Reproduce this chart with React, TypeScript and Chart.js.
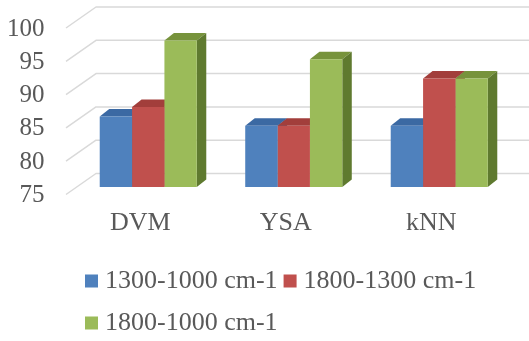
import React, { useEffect, useRef } from "react";
import { Chart, registerables } from "chart.js";

Chart.register(...registerables);

// Categories, series and axis ticks
const categories = ["DVM", "YSA", "kNN"];
const seriesNames = ["1300-1000 cm-1", "1800-1300 cm-1", "1800-1000 cm-1"];
const series1300to1000 = [85.6, 84.2, 84.2];
const series1800to1300 = [87.0, 84.2, 91.3];
const series1800to1000 = [97.0, 94.2, 91.3];
const yTicks = [75, 80, 85, 90, 95, 100];

// Face colours: front, top, side
const frontColors = ["#4f81bd", "#c0504d", "#9bbb59"];
const topColors = ["#3b69a3", "#a23e3b", "#77933c"];
const sideColors = ["#2f5585", "#8a3331", "#5f7a2f"];

// Oblique projection used for the pseudo-3D look
const WALL_DX = 30; // side wall depth (x)
const WALL_DY = 21; // side wall depth (y)
const FRONT_DX = -9.5; // bar plane -> front plane
const FRONT_DY = 7.5;
const BAR_DX = 9.5; // bar depth
const BAR_DY = 7.5;

const TEXT = "#595959";
const SERIF = "'Liberation Serif', 'Times New Roman', serif";

const depthPlugin = {
  id: "depth3d",
  beforeDatasetsDraw(chart: any) {
    const { ctx, chartArea } = chart;
    const y = chart.scales.y;
    ctx.save();
    // side wall diagonals and back wall gridlines
    ctx.strokeStyle = "#d9d9d9";
    ctx.lineWidth = 1.5;
    ctx.lineJoin = "round";
    yTicks.forEach((v) => {
      const py = y.getPixelForValue(v);
      const fx = chartArea.left + FRONT_DX;
      const fy = py + FRONT_DY;
      const bx = fx + WALL_DX;
      const by = fy - WALL_DY;
      ctx.beginPath();
      ctx.moveTo(fx, fy);
      ctx.lineTo(bx, by);
      ctx.lineTo(chart.width, by);
      ctx.stroke();
    });
    // top and side faces of every bar (front faces are drawn by the bar elements)
    chart.data.datasets.forEach((_ds: any, di: number) => {
      const meta = chart.getDatasetMeta(di);
      meta.data.forEach((bar: any) => {
        const props = bar.getProps(["x", "y", "base", "width"], true);
        const top = props.y;
        const base = Math.min(props.base, chartArea.bottom);
        const l = props.x - props.width / 2;
        const r = props.x + props.width / 2;
        ctx.fillStyle = topColors[di];
        ctx.beginPath();
        ctx.moveTo(l, top);
        ctx.lineTo(l + BAR_DX, top - BAR_DY);
        ctx.lineTo(r + BAR_DX, top - BAR_DY);
        ctx.lineTo(r, top);
        ctx.closePath();
        ctx.fill();
        ctx.fillStyle = sideColors[di];
        ctx.beginPath();
        ctx.moveTo(r, top);
        ctx.lineTo(r + BAR_DX, top - BAR_DY);
        ctx.lineTo(r + BAR_DX, base - BAR_DY);
        ctx.lineTo(r, base);
        ctx.closePath();
        ctx.fill();
      });
    });
    ctx.restore();
  },
  afterDraw(chart: any) {
    const { ctx, chartArea } = chart;
    const x = chart.scales.x;
    const y = chart.scales.y;
    ctx.save();
    ctx.fillStyle = TEXT;
    // value axis labels on the front plane
    ctx.font = `25px ${SERIF}`;
    ctx.textAlign = "right";
    ctx.textBaseline = "middle";
    yTicks.forEach((v) => {
      ctx.fillText(String(v), chartArea.left - 31, y.getPixelForValue(v) + FRONT_DY + 1);
    });
    // category labels
    ctx.font = `26px ${SERIF}`;
    ctx.textAlign = "center";
    categories.forEach((c, i) => {
      ctx.fillText(c, x.getPixelForValue(i) + FRONT_DX + 1.5, chartArea.bottom + 36);
    });
    // legend
    ctx.font = `26px ${SERIF}`;
    ctx.textAlign = "left";
    const startX = 85;
    const maxX = 512;
    let cx = startX;
    let cy = 281;
    chart.data.datasets.forEach((ds: any, di: number) => {
      const tw = ctx.measureText(ds.label).width;
      const itemW = 20 + tw;
      if (cx > startX && cx + itemW > maxX) {
        cx = startX;
        cy += 42;
      }
      ctx.fillStyle = frontColors[di];
      ctx.fillRect(cx, cy - 6.5, 13, 13);
      ctx.fillStyle = TEXT;
      ctx.fillText(ds.label, cx + 20, cy);
      cx += itemW + 6;
    });
    ctx.restore();
  },
};

export default function App() {
  const canvasRef = useRef<HTMLCanvasElement | null>(null);

  useEffect(() => {
    document.body.style.margin = "0";
    const canvas = canvasRef.current;
    if (!canvas) return;
    const values = [series1300to1000, series1800to1300, series1800to1000];
    const chart = new Chart(canvas, {
      type: "bar",
      data: {
        labels: categories,
        datasets: values.map((data, i) => ({
          label: seriesNames[i],
          data,
          backgroundColor: frontColors[i],
          borderWidth: 0,
          categoryPercentage: 0.667,
          barPercentage: 1,
        })),
      },
      options: {
        responsive: false,
        animation: false,
        devicePixelRatio: 1,
        layout: { padding: { left: 75.5, right: 17, top: 20.5, bottom: 154 } },
        scales: {
          x: { display: false },
          y: { display: false, min: 75, max: 100, ticks: { stepSize: 5 } },
        },
        plugins: {
          legend: { display: false },
          tooltip: { enabled: false },
        },
      },
      plugins: [depthPlugin],
    });
    return () => chart.destroy();
  }, []);

  return (
    <div style={{ width: 529, height: 341, background: "#ffffff" }}>
      <canvas ref={canvasRef} width={529} height={341} style={{ display: "block", width: 529, height: 341 }} />
    </div>
  );
}
